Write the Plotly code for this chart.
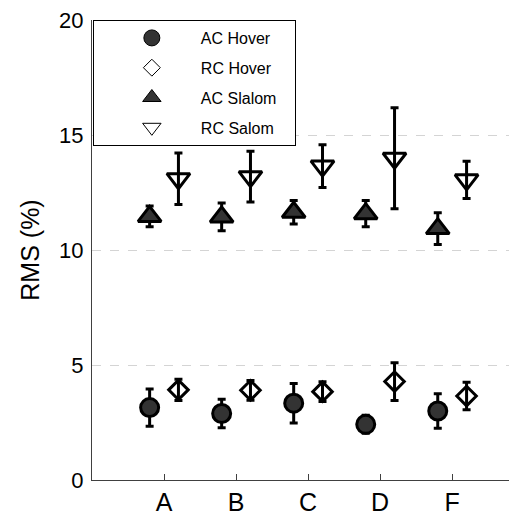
import plotly.graph_objects as go

categories = ["A", "B", "C", "D", "F"]
positions = [1, 2, 3, 4, 5]

ac_hover = [3.15, 2.89, 3.34, 2.42, 3.00]
ac_hover_err = [0.81, 0.62, 0.86, 0.39, 0.75]
rc_hover = [3.92, 3.90, 3.84, 4.28, 3.65]
rc_hover_err = [0.46, 0.43, 0.43, 0.82, 0.60]
ac_slalom = [11.46, 11.44, 11.64, 11.58, 10.93]
ac_slalom_err = [0.45, 0.60, 0.51, 0.57, 0.69]
rc_slalom = [13.10, 13.19, 13.65, 13.99, 13.05]
rc_slalom_err = [1.12, 1.10, 0.93, 2.20, 0.81]

offset = 0.2
x_ac = [p - offset for p in positions]
x_rc = [p + offset for p in positions]

FONT = "Liberation Sans, Arial, sans-serif"
DARK = "#333333"
ERR = dict(type="data", visible=True, color="black", thickness=3, width=4)

fig = go.Figure()

series = [
    ("AC Hover", x_ac, ac_hover, ac_hover_err, "circle", DARK, 18),
    ("RC Hover", x_rc, rc_hover, rc_hover_err, "diamond-open", "black", 15),
    ("AC Slalom", x_ac, ac_slalom, ac_slalom_err, "triangle-up", DARK, 20),
    ("RC Salom", x_rc, rc_slalom, rc_slalom_err, "triangle-down-open", "black", 20),
]

for name, xs, ys, es, sym, col, size in series:
    fig.add_trace(go.Scatter(
        x=xs, y=ys, mode="markers", name=name, showlegend=False,
        error_y=dict(array=es, **ERR),
        marker=dict(symbol=sym, size=size, color=col,
                    line=dict(color="black", width=3)),
    ))

# legend-only entries with thin outlines
legend_sizes = {"AC Hover": 16, "RC Hover": 13, "AC Slalom": 16, "RC Salom": 16}
PAD = "\u00a0" * 3
for i, (name, xs, ys, es, sym, col, size) in enumerate(series):
    fig.add_trace(go.Scatter(
        x=[None], y=[None], mode="markers", name=name + PAD, showlegend=True,
        legendgroup="g%d" % i,
        marker=dict(symbol=sym, size=legend_sizes[name], color=col,
                    line=dict(color="black", width=1)),
    ))

# page body adds an 8px margin, so the figure is sized and offset to compensate
fig.update_layout(
    width=509, height=508,
    margin=dict(l=84, r=0, t=7, b=33),
    plot_bgcolor="white", paper_bgcolor="white",
    font=dict(family=FONT, color="black"),
    legend=dict(
        x=0.002, y=1, xanchor="left", yanchor="top",
        bordercolor="black", borderwidth=1, bgcolor="white",
        font=dict(size=16, family=FONT, color="black"),
        itemwidth=88, indentation=9,
        traceorder="grouped", tracegroupgap=6,
    ),
    xaxis=dict(
        range=[0, 5.9], tickvals=positions, ticktext=categories,
        ticks="inside", ticklen=6, tickcolor="#404040",
        showline=True, linecolor="#404040", linewidth=1,
        showgrid=False, zeroline=False,
        tickfont=dict(size=25, family=FONT, color="black"),
    ),
    yaxis=dict(
        range=[0, 20], tickvals=[0, 5, 10, 15, 20],
        ticks="", showline=True, linecolor="#404040", linewidth=1,
        showgrid=True, griddash="dash", gridcolor="#d4d4d4", gridwidth=1,
        zeroline=False, ticklabelstandoff=3, ticklabeloverflow="allow",
        tickfont=dict(size=22, family=FONT, color="black"),
        title=dict(text="RMS (%)", font=dict(size=25, family=FONT, color="black"), standoff=12),
    ),
)

fig.write_html("out.html")
